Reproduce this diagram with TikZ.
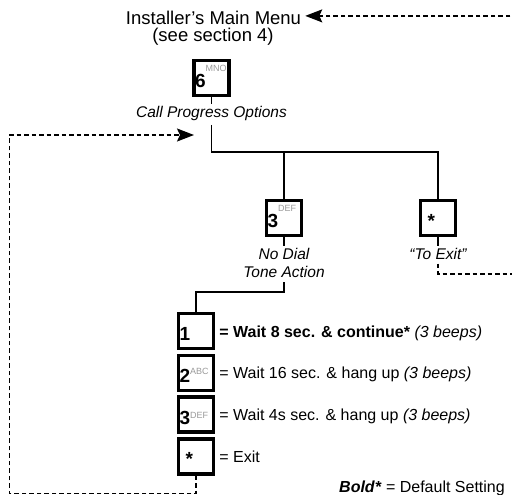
\documentclass[tikz,border=0pt]{standalone}
\usepackage{fontspec}
\setmainfont{Liberation Sans}
\usepackage{xcolor}
\usepackage{tikz}
\usetikzlibrary{positioning}
\usetikzlibrary{arrows.meta}

\definecolor{keygray}{gray}{0.6}
\newcommand{\keycap}[3][8pt]{\makebox[33pt][l]{\textbf{#2}\raisebox{#1}{\fontsize{9}{9}\selectfont\color{keygray}#3}}}

\begin{document}
\begin{tikzpicture}[x=1pt, y=-1pt,
    keybox/.style={draw, line width=3.3pt, minimum width=35pt, minimum height=35pt, inner sep=1pt, text height=19pt, text depth=0pt, font=\fontsize{19}{19}\selectfont},
    caption/.style={inner sep=0pt, align=center, font=\fontsize{15.5}{18.5}\selectfont\itshape},
    optiontext/.style={anchor=base west, inner sep=0pt, font=\fontsize{16}{18}\selectfont},
    wire/.style={line width=1.9pt},
    loopback/.style={line width=1.6pt, dash pattern=on 4.5pt off 3pt, -{Stealth[length=17pt, width=13pt, inset=3pt]}}]
    \useasboundingbox (0,0) rectangle (512,495);

    \node[anchor=base, inner sep=0pt, font=\fontsize{18.5}{20}\selectfont] (menu) at (213.5,25) {Installer's Main Menu};
    \node[anchor=base, inner sep=0pt, font=\fontsize{18.5}{20}\selectfont] (section) at (213,41.5) {(see section 4)};

    \node[keybox] (k6) at (211.5,77.8) {\keycap[16pt]{6}{MNO}};
    \node[caption, below=9pt of k6] (cpo) {Call Progress Options};

    \node[keybox] (k3) at (284,218) {\keycap[16pt]{3}{DEF}};
    \node[caption, below=10.7pt of k3] (nd) {No Dial\\Tone Action};
    \node[keybox] (kt) at (438,218) {\keycap{\hspace*{6pt}*}{}};
    \node[caption, below=10.7pt of kt] (te) {``To Exit''};

    % option keys with their texts
    \foreach \key/\txt [count=\i] in {
        {\keycap{1}{}}/{\textbf{= Wait 8 sec. \& continue*} \textit{(3 beeps)}},
        {\keycap{2}{ABC}}/{= Wait 16 sec. \& hang up \textit{(3 beeps)}},
        {\keycap[6pt]{3}{DEF}}/{= Wait 4s sec. \& hang up \textit{(3 beeps)}},
        {\keycap{\hspace*{6pt}*}{}}/{= Exit}}
    {
        \node[keybox] (opt\i) at (196,{289.2+41.8*\i}) {\key};
        \node[optiontext] (opttext\i) at ([xshift=4pt, yshift=-6pt]opt\i.east) {\txt};
    }

    \node[anchor=base east, inner sep=0pt, font=\fontsize{16}{18}\selectfont] (defaultnote) at (505,492.5) {\textbf{\textit{Bold*}} = Default Setting};

    % Drawing the tree
    \coordinate (bus) at (211.5,152);
    \coordinate (elbow) at (284,291.7);
    \draw[wire, shorten >=2pt] (k6) -- (cpo);
    \draw[wire] ([yshift=-4pt]cpo.south) -- (bus) -| (kt.north);
    \draw[wire] (bus -| k3.north) -- (k3.north);
    \draw[wire, shorten >=2pt] (k3) -- (nd);
    \draw[wire, shorten >=2pt] (kt) -- (te);
    \draw[wire] ([yshift=-4pt]nd.south) -- (elbow) -| (opt1.north);

    % Drawing the dashed returns
    \coordinate (loopin) at (194,135);
    \coordinate (loopcorner) at (9.5,493.5);
    \coordinate (exitcorner) at (512.4,274);
    \draw[loopback] (opt4.south) |- (loopcorner) |- (loopin);
    \draw[loopback] ([yshift=-4pt]te.south) |- (exitcorner) |- ([xshift=4pt, yshift=2.5pt]menu.east);
\end{tikzpicture}
\end{document}
